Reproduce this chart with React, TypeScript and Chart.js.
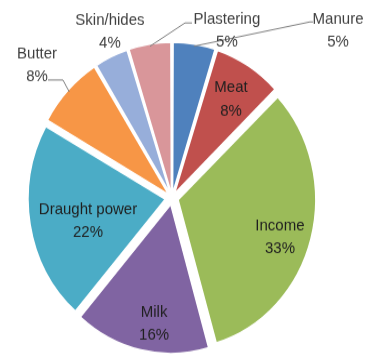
import React, { useEffect, useRef } from "react";
import { Chart, registerables } from "chart.js";

Chart.register(...registerables);

const categories = ["Manure", "Meat", "Income", "Milk", "Draught power", "Butter", "Skin/hides", "Plastering"];
const shares = [5, 8, 33, 16, 22, 8, 4, 5];
const sliceColors = ["#4F81BD", "#C0504D", "#9BBB59", "#8064A2", "#4BACC6", "#F79646", "#97AEDA", "#D9969A"];

// label layout, relative to the pie centre in units of the outer radius
const labelLayout = [
  { pos: [1.212, -1.131], inside: false, leader: [[1.007, -1.188], [1.029, -1.188]] },
  { pos: [0.431, -0.665], inside: true },
  { pos: [0.788, 0.263], inside: true },
  { pos: [-0.131, 0.85], inside: true },
  { pos: [-0.613, 0.158], inside: true },
  { pos: [-0.985, -0.898], inside: false, leader: [[-0.796, -0.796], [-0.905, -0.796]] },
  { pos: [-0.453, -1.12], inside: false },
  { pos: [0.401, -1.131], inside: false, leader: [[0.095, -1.181], [0.146, -1.181]] },
];

// wanted explosion distance in pixels
const EXPLODE_PX = 7;
const FONT = '15px "Liberation Sans", Arial, sans-serif';

// Chart.js moves an arc by offset/4 * (2 - sin(circumference)); compensate so every slice moves EXPLODE_PX
const total = shares.reduce((a, b) => a + b, 0);
const sliceOffsets = shares.map((v) => {
  const c = (v / total) * Math.PI * 2;
  return (4 * EXPLODE_PX) / (2 - Math.sin(Math.min(Math.PI, c)));
});

const labelPlugin = {
  id: "sliceLabels",
  afterDatasetsDraw(chart: any) {
    const ctx = chart.ctx;
    const meta = chart.getDatasetMeta(0);
    meta.data.forEach((arc: any, i: number) => {
      const p = arc.getProps(["x", "y", "startAngle", "endAngle", "outerRadius"], true);
      const R = p.outerRadius;
      const mid = (p.startAngle + p.endAngle) / 2;
      const lay = labelLayout[i];
      const cx = p.x + lay.pos[0] * R;
      const cy = p.y + lay.pos[1] * R;
      ctx.save();
      if (lay.leader) {
        const sx = p.x + Math.cos(mid) * (R + EXPLODE_PX - 2);
        const sy = p.y + Math.sin(mid) * (R + EXPLODE_PX - 2);
        ctx.strokeStyle = "#7f7f7f";
        ctx.lineWidth = 1;
        ctx.beginPath();
        ctx.moveTo(sx, sy);
        lay.leader.forEach((pt) => ctx.lineTo(p.x + pt[0] * R, p.y + pt[1] * R));
        ctx.stroke();
      }
      ctx.font = FONT;
      ctx.fillStyle = lay.inside ? "#1f1f1f" : "#404040";
      ctx.textAlign = "center";
      ctx.textBaseline = "middle";
      ctx.fillText(categories[i], cx, cy - 10.6);
      ctx.fillText(shares[i] + "%", cx, cy + 10.6);
      ctx.restore();
    });
  },
};

export default function App() {
  const ref = useRef<HTMLCanvasElement | null>(null);
  useEffect(() => {
    if (!ref.current) return;
    const chart = new Chart(ref.current, {
      type: "pie",
      data: {
        labels: categories,
        datasets: [
          {
            data: shares,
            backgroundColor: sliceColors,
            borderColor: "#ffffff",
            borderWidth: 1.5,
            offset: sliceOffsets,
          },
        ],
      },
      options: {
        responsive: false,
        animation: false,
        radius: 137,
        layout: { padding: { left: 0, right: 26, top: 35, bottom: 0 } },
        plugins: {
          legend: { display: false },
          tooltip: { enabled: false },
        },
      },
      plugins: [labelPlugin],
    });
    return () => chart.destroy();
  }, []);
  return (
    <div style={{ position: "absolute", left: 0, top: 0, width: 370, height: 358, background: "#fff" }}>
      <canvas ref={ref} width={370} height={331} style={{ width: "370px", height: "358px", display: "block" }} />
    </div>
  );
}
